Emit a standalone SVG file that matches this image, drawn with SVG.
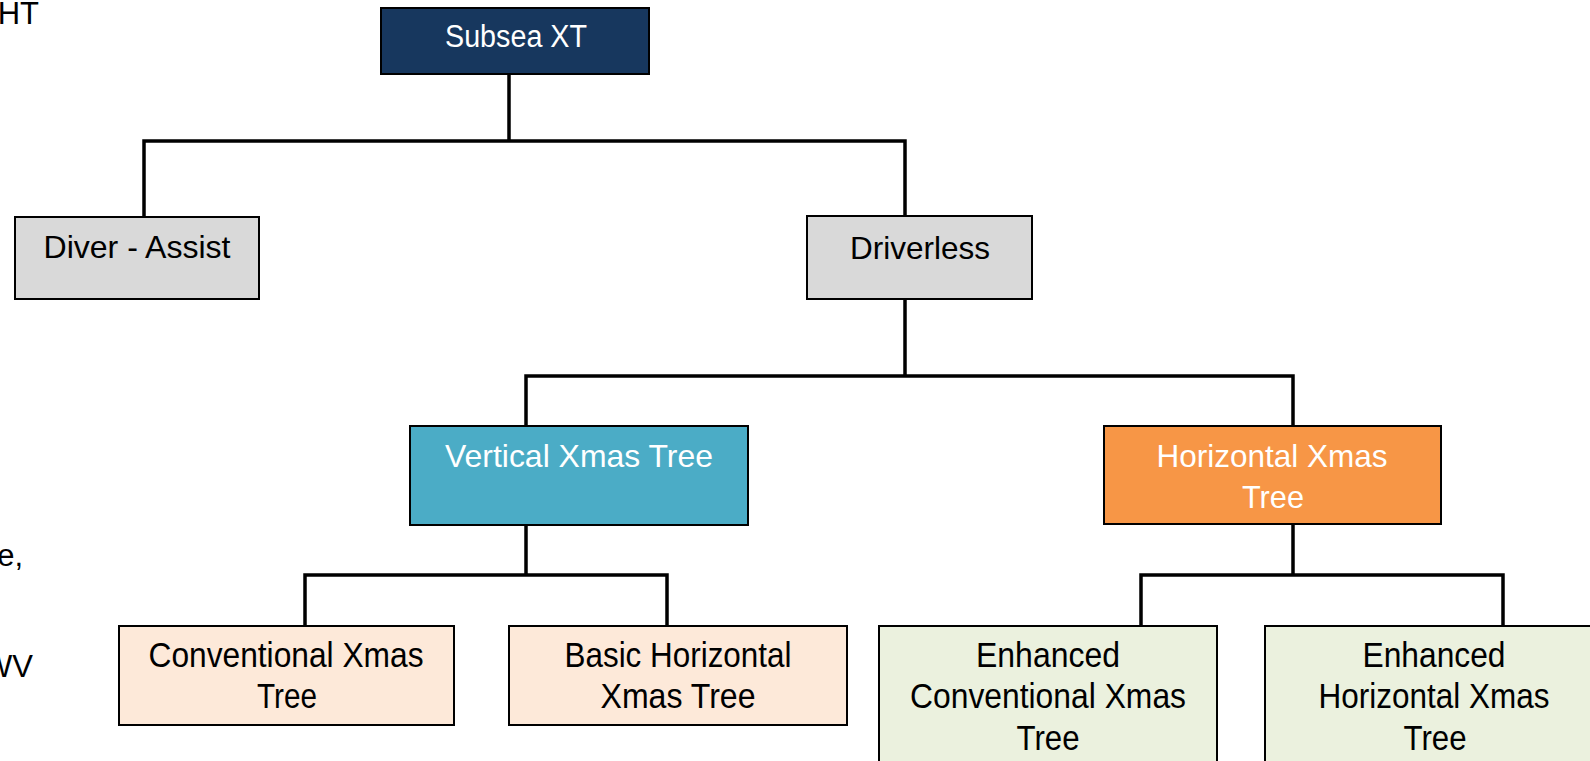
<svg xmlns="http://www.w3.org/2000/svg" width="1590" height="761" viewBox="0 0 1590 761">
<style>
  .box { stroke: #000; stroke-width: 2; }
  .t { font-family: "Liberation Sans", Arial, sans-serif; text-anchor: middle; fill: #000; }
  .w { fill: #fff; }
  .up { font-size: 32px; }
  .lo { font-size: 35px; }
  .edge { font-family: "Liberation Sans", Arial, sans-serif; font-size: 31px; text-anchor: end; fill: #000; }
  .conn { stroke: #000; stroke-width: 3.5; fill: none; stroke-linecap: square; }
</style>
<rect width="1590" height="761" fill="#fff"/>
<g id="edge-text">
  <text class="edge" x="39" y="24">HT</text>
  <text class="edge" x="23" y="566">e,</text>
  <text class="edge" x="33" y="677">WV</text>
</g>
<g id="connectors">
  <path class="conn" d="M509 74 V141 M144 141 H905 M144 141 V217 M905 141 V216"/>
  <path class="conn" d="M905 299 V376 M526 376 H1293 M526 376 V426 M1293 376 V426"/>
  <path class="conn" d="M526 525 V575 M305 575 H667 M305 575 V626 M667 575 V626"/>
  <path class="conn" d="M1293 524 V575 M1141 575 H1503 M1141 575 V626 M1503 575 V626"/>
</g>
<g id="subsea-xt">
  <rect class="box" x="381" y="8" width="268" height="66" fill="#17375e"/>
  <text class="t w" x="516" y="47" font-size="31" textLength="142" lengthAdjust="spacingAndGlyphs">Subsea XT</text>
</g>
<g id="diver-assist">
  <rect class="box" x="15" y="217" width="244" height="82" fill="#d9d9d9"/>
  <text class="t up" x="137" y="258" textLength="187" lengthAdjust="spacingAndGlyphs">Diver - Assist</text>
</g>
<g id="driverless">
  <rect class="box" x="807" y="216" width="225" height="83" fill="#d9d9d9"/>
  <text class="t up" x="920" y="259" textLength="140" lengthAdjust="spacingAndGlyphs">Driverless</text>
</g>
<g id="vertical-xmas-tree">
  <rect class="box" x="410" y="426" width="338" height="99" fill="#4bacc6"/>
  <text class="t w up" x="579" y="467" textLength="268" lengthAdjust="spacingAndGlyphs">Vertical Xmas Tree</text>
</g>
<g id="horizontal-xmas-tree">
  <rect class="box" x="1104" y="426" width="337" height="98" fill="#f79646"/>
  <text class="t w up" x="1272" y="467" textLength="231" lengthAdjust="spacingAndGlyphs">Horizontal Xmas</text>
  <text class="t w up" x="1273" y="508" textLength="62" lengthAdjust="spacingAndGlyphs">Tree</text>
</g>
<g id="conventional-xmas-tree">
  <rect class="box" x="119" y="626" width="335" height="99" fill="#fde9d9"/>
  <text class="t lo" x="286" y="667" textLength="275" lengthAdjust="spacingAndGlyphs">Conventional Xmas</text>
  <text class="t lo" x="287" y="708" textLength="60" lengthAdjust="spacingAndGlyphs">Tree</text>
</g>
<g id="basic-horizontal-xmas-tree">
  <rect class="box" x="509" y="626" width="338" height="99" fill="#fde9d9"/>
  <text class="t lo" x="678" y="667" textLength="227" lengthAdjust="spacingAndGlyphs">Basic Horizontal</text>
  <text class="t lo" x="678" y="708" textLength="155" lengthAdjust="spacingAndGlyphs">Xmas Tree</text>
</g>
<g id="enhanced-conventional-xmas-tree">
  <rect class="box" x="879" y="626" width="338" height="150" fill="#ebf1de"/>
  <text class="t lo" x="1048" y="667" textLength="144" lengthAdjust="spacingAndGlyphs">Enhanced</text>
  <text class="t lo" x="1048" y="708" textLength="276" lengthAdjust="spacingAndGlyphs">Conventional Xmas</text>
  <text class="t lo" x="1048" y="750" textLength="63" lengthAdjust="spacingAndGlyphs">Tree</text>
</g>
<g id="enhanced-horizontal-xmas-tree">
  <rect class="box" x="1265" y="626" width="345" height="150" fill="#ebf1de"/>
  <text class="t lo" x="1434" y="667" textLength="143" lengthAdjust="spacingAndGlyphs">Enhanced</text>
  <text class="t lo" x="1434" y="708" textLength="231" lengthAdjust="spacingAndGlyphs">Horizontal Xmas</text>
  <text class="t lo" x="1435" y="750" textLength="63" lengthAdjust="spacingAndGlyphs">Tree</text>
</g>
</svg>
